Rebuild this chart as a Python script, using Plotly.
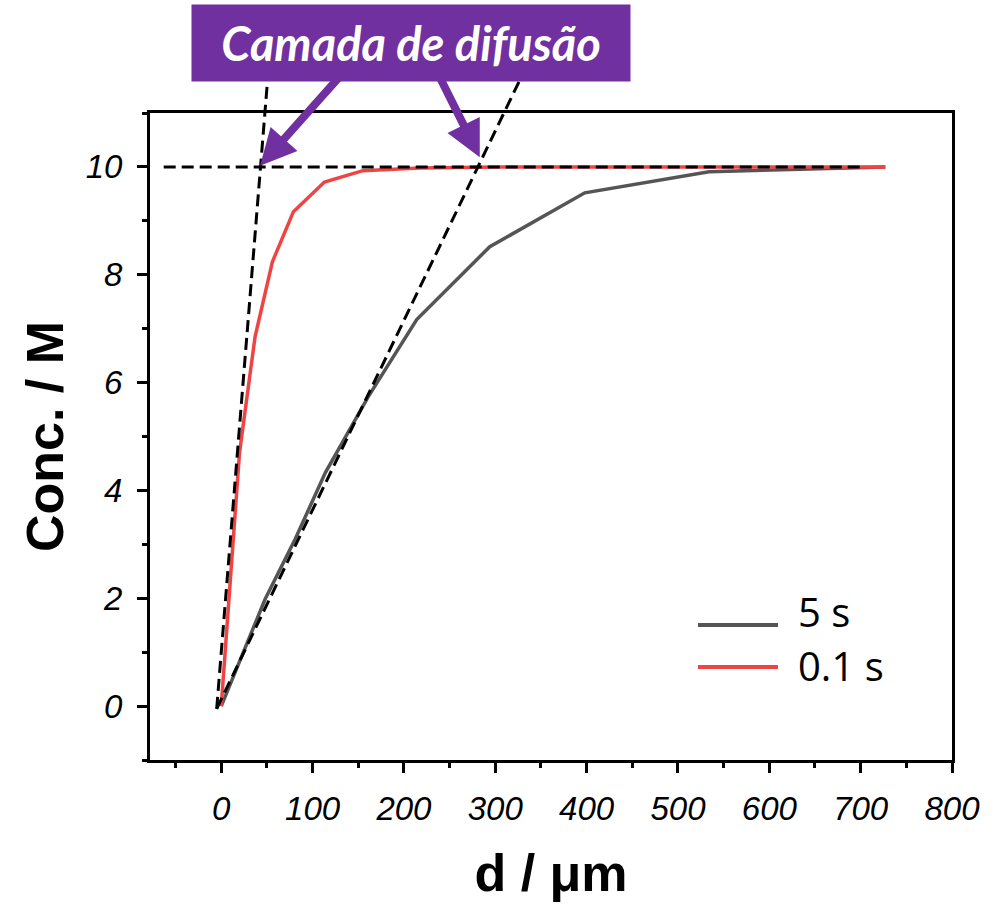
import plotly.graph_objects as go

# ---- data ----
d_fast = [0, 9, 20, 37, 56, 79, 113, 155, 217, 300, 400, 534, 727]
c_fast = [0, 2.2, 4.7, 6.85, 8.24, 9.17, 9.72, 9.93, 9.98, 10.0, 10.0, 10.0, 10.0]

d_slow = [0, 48, 81, 114, 161, 214, 294, 398, 534, 727]
c_slow = [0, 1.98, 3.1, 4.33, 5.74, 7.17, 8.52, 9.52, 9.91, 10.0]

series_names = ["5 s", "0.1 s"]
series_colors = ["#555555", "#f04444"]

x_range = [-78, 800]
y_range = [-1, 11]
x_ticks = [0, 100, 200, 300, 400, 500, 600, 700, 800]
y_ticks = [0, 2, 4, 6, 8, 10]

# tangent construction lines (data coords): start point, point on c=10, top y
bulk_c = 10
bulk_span = [-63, 702]
tangent_start = (-5, -0.05)
tangent_hits = [43, 281]        # x where each tangent reaches c = 10
tangent_top_c = 11.65           # lines run up under the label box

label_text = "Camada de difusão"

# ---- figure ----
fig = go.Figure()
fig.add_trace(go.Scatter(x=d_slow, y=c_slow, mode="lines", name=series_names[0],
                         line=dict(color=series_colors[0], width=3.5), showlegend=False))
fig.add_trace(go.Scatter(x=d_fast, y=c_fast, mode="lines", name=series_names[1],
                         line=dict(color=series_colors[1], width=3.5), showlegend=False))

PLOT_L, PLOT_R, PLOT_T, PLOT_B = 150, 952, 113, 760


def nx(x):
    return (x - x_range[0]) / (x_range[1] - x_range[0])


def ny(y):
    return (y - y_range[0]) / (y_range[1] - y_range[0])


def px_x(p):
    return (p - PLOT_L) / (PLOT_R - PLOT_L)


def px_y(p):
    return (PLOT_B - p) / (PLOT_B - PLOT_T)


dash = dict(color="black", width=3, dash="12px,6px")
fig.add_shape(type="line", xref="x", yref="y", x0=bulk_span[0], x1=bulk_span[1],
              y0=bulk_c, y1=bulk_c, line=dash, layer="above")
for xh in tangent_hits:
    x0, y0 = tangent_start
    slope = (bulk_c - y0) / (xh - x0)
    x1 = x0 + (tangent_top_c - y0) / slope
    fig.add_shape(type="line", xref="paper", yref="paper",
                  x0=nx(x0), y0=ny(y0), x1=nx(x1), y1=ny(tangent_top_c),
                  line=dash, layer="above")

# legend (long line samples as in the original)
legend_line_y = [625, 667]
legend_text_y = [611, 665]
for name, col, ly, ty in zip(series_names, series_colors, legend_line_y, legend_text_y):
    fig.add_shape(type="line", xref="paper", yref="paper",
                  x0=px_x(698), x1=px_x(778), y0=px_y(ly), y1=px_y(ly),
                  line=dict(color=col, width=4), layer="above")
    fig.add_annotation(x=px_x(797), y=px_y(ty), xref="paper", yref="paper",
                       xanchor="left", yanchor="middle", text=name, showarrow=False,
                       height=40, borderpad=0,
                       font=dict(family="Open Sans, Noto Sans, sans-serif", size=40,
                                 color="black"))

purple = "#7030A0"
# arrows from label box to the intersections
fig.add_annotation(x=tangent_hits[0] - 0.5, y=bulk_c + 0.02, xref="x", yref="y",
                   text="", showarrow=True, ax=82, ay=-92,
                   arrowhead=2, arrowsize=0.9, arrowwidth=8, arrowcolor=purple)
fig.add_annotation(x=tangent_hits[1] + 2, y=bulk_c + 0.18, xref="x", yref="y",
                   text="", showarrow=True, ax=-42, ay=-84,
                   arrowhead=2, arrowsize=0.9, arrowwidth=8, arrowcolor=purple)
# label box
fig.add_annotation(x=px_x(411), y=px_y(43), xref="paper", yref="paper",
                   xanchor="center", yanchor="middle",
                   text="<b><i>" + label_text + "</i></b>", showarrow=False,
                   font=dict(family="Lato, Open Sans, sans-serif", size=47, color="white"),
                   bgcolor=purple, borderpad=0, width=438, height=76, align="center")

tickfont = dict(family="Liberation Sans, Arial, sans-serif", size=33, color="black",
                style="italic")
titlefont = dict(family="Liberation Sans, Arial, sans-serif", size=52, color="black",
                 weight="bold")

fig.update_xaxes(range=x_range, tickvals=x_ticks, ticks="outside", ticklen=10,
                 tickwidth=2.5, tickcolor="black", showline=True, linewidth=3,
                 linecolor="black", mirror=True, showgrid=False, zeroline=False,
                 tickfont=tickfont, ticklabelstandoff=7,
                 minor=dict(ticks="outside", dtick=50, tick0=0, ticklen=5,
                            tickwidth=2.5, tickcolor="black", showgrid=False),
                 title=dict(text="d / μm", font=titlefont, standoff=30))
fig.update_yaxes(range=y_range, tickvals=y_ticks, ticks="outside", ticklen=10,
                 tickwidth=2.5, tickcolor="black", showline=True, linewidth=3,
                 linecolor="black", mirror=True, showgrid=False, zeroline=False,
                 tickfont=tickfont, ticklabelstandoff=8,
                 minor=dict(ticks="outside", dtick=1, tick0=0, ticklen=5,
                            tickwidth=2.5, tickcolor="black", showgrid=False),
                 title=dict(text="Conc. / M", font=titlefont, standoff=6))

fig.update_layout(
    width=1003, height=908,
    margin=dict(l=PLOT_L, r=1003 - PLOT_R, t=PLOT_T, b=908 - PLOT_B, autoexpand=False),
    paper_bgcolor="white", plot_bgcolor="white",
    showlegend=False,
)

fig.write_html("out.html")
